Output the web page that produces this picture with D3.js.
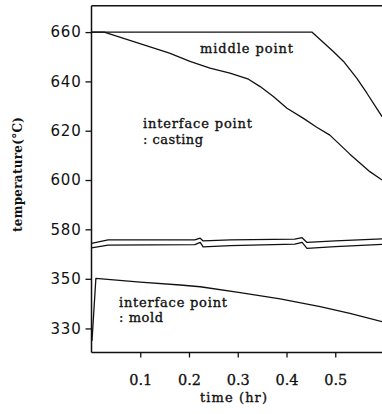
<!DOCTYPE html>
<html>
<head>
<meta charset="utf-8">
<script src="https://cdn.jsdelivr.net/npm/d3@7"></script>
<style>
  html, body { margin: 0; padding: 0; background: #fff; }
  svg { display: block; }
</style>
</head>
<body>
<div id="chart"></div>
<script>
// Time axis (hr) and tick values
const xTicks = [0.1, 0.2, 0.3, 0.4, 0.5];
const yTicks = [330, 350, 580, 600, 620, 640, 660];

// Middle point of the casting
const midTime = [0, 0.452, 0.496, 0.517, 0.544, 0.565, 0.585, 0.596];
const midTemp = [660, 660, 652.1, 648.1, 641.3, 635.2, 629.1, 625.7];

// Interface point on the casting side
const casTime = [0, 0.026, 0.16, 0.202, 0.243, 0.284, 0.322, 0.346, 0.373, 0.401, 0.434, 0.462, 0.489, 0.530, 0.571, 0.596];
const casTemp = [660, 660, 651.5, 648.1, 645.4, 643.4, 640.9, 637.9, 633.9, 629.1, 625.1, 621.4, 618.2, 610.5, 603.4, 600];

// Pair of near-constant traces around 574 °C
const bandTime  = [0, 0.034, 0.212, 0.223, 0.229, 0.285, 0.417, 0.432, 0.442, 0.50, 0.596];
const bandUpper = [574.3, 575.7, 575.7, 576.4, 575.3, 575.7, 576.0, 576.6, 574.7, 575.3, 576.1];
const bandLower = [572.5, 573.6, 573.8, 574.7, 572.9, 573.4, 574.0, 574.7, 572.3, 573.0, 573.9];

// Interface point on the mold side
const moldTime = [0.001, 0.009, 0.10, 0.182, 0.223, 0.305, 0.387, 0.469, 0.530, 0.596];
const moldTemp = [325, 350.2, 348.7, 347.5, 346.8, 344.4, 341.9, 338.8, 336.1, 332.7];

const W = 382, H = 414;
const plotLeft = 91.5, plotTop = 5.7, plotBottom = 352.5, breakY = 254;

const svg = d3.select("#chart").append("svg")
  .attr("width", W).attr("height", H)
  .style("background", "#fff");

const x = d3.scaleLinear().domain([0, 0.6]).range([plotLeft, plotLeft + 0.6 * 487.5]);
// Broken temperature axis: lower part 320–360, upper part 570–671
const y = d3.scaleLinear()
  .domain([320.3, 360, 570, 670.7])
  .range([plotBottom, breakY, breakY, plotTop]);

const serif = "'DejaVu Serif', 'Liberation Serif', serif";

// Frame
const frame = svg.append("g").attr("stroke", "#111").attr("stroke-width", 1.5).attr("fill", "none");
frame.append("line").attr("x1", plotLeft).attr("x2", plotLeft).attr("y1", plotTop).attr("y2", plotBottom);
frame.append("line").attr("x1", plotLeft).attr("x2", W + 5).attr("y1", plotTop).attr("y2", plotTop);
frame.append("line").attr("x1", plotLeft).attr("x2", W + 5).attr("y1", plotBottom).attr("y2", plotBottom);

// Y axis
const yAxis = svg.append("g").attr("transform", `translate(${plotLeft},0)`)
  .call(d3.axisLeft(y).tickValues(yTicks).tickSize(6).tickPadding(4).tickFormat(d3.format("d")));
yAxis.select(".domain").remove();
yAxis.selectAll(".tick line").attr("stroke", "#111").attr("stroke-width", 1.3);
yAxis.selectAll(".tick text")
  .attr("fill", "#111")
  .style("font-family", "'DejaVu Sans', sans-serif")
  .style("font-size", "15px")
  .style("letter-spacing", "0.8px");

// X axis
const xAxis = svg.append("g").attr("transform", `translate(0,${plotBottom})`)
  .call(d3.axisBottom(x).tickValues(xTicks).tickSize(5).tickFormat(d3.format(".1f")));
xAxis.select(".domain").remove();
xAxis.selectAll(".tick line").attr("stroke", "#111").attr("stroke-width", 1.3);
xAxis.selectAll(".tick text")
  .attr("fill", "#111")
  .attr("stroke", "#111").attr("stroke-width", 0.3)
  .attr("y", 22)
  .style("font-family", serif)
  .style("font-size", "14.5px");

// Curves
const line = d3.line().x(d => x(d[0])).y(d => y(d[1]));
const series = [
  [midTime, midTemp],
  [casTime, casTemp],
  [bandTime, bandUpper],
  [bandTime, bandLower],
  [moldTime, moldTemp]
];
svg.append("g").attr("fill", "none").attr("stroke", "#111").attr("stroke-width", 1.3)
  .attr("stroke-linejoin", "round")
  .selectAll("path").data(series).join("path")
  .attr("d", s => line(s[0].map((t, i) => [t, s[1][i]])));

// Annotations
const notes = [
  { text: "middle point", x: 200, y: 52.5, len: 93 },
  { text: "interface point", x: 143, y: 128, len: 109 },
  { text: ": casting", x: 143, y: 143.5, len: 60 },
  { text: "interface point", x: 119, y: 307, len: 108 },
  { text: ": mold", x: 119, y: 322, len: 44 }
];
svg.append("g").selectAll("text").data(notes).join("text")
  .attr("x", d => d.x).attr("y", d => d.y)
  .attr("textLength", d => d.len).attr("lengthAdjust", "spacing")
  .attr("fill", "#111")
  .attr("stroke", "#111").attr("stroke-width", 0.35)
  .style("font-family", serif).style("font-size", "13px")
  .text(d => d.text);

// Axis titles
svg.append("text")
  .attr("x", 233.5).attr("y", 402)
  .attr("text-anchor", "middle")
  .attr("textLength", 67).attr("lengthAdjust", "spacing")
  .attr("fill", "#111")
  .attr("stroke", "#111").attr("stroke-width", 0.35)
  .style("font-family", serif).style("font-size", "13px")
  .text("time (hr)");

svg.append("text")
  .attr("transform", "translate(22,174.5) rotate(-90)")
  .attr("text-anchor", "middle")
  .attr("textLength", 115).attr("lengthAdjust", "spacing")
  .attr("fill", "#111")
  .style("font-family", serif).style("font-size", "12px").style("font-weight", "bold")
  .text("temperature(°C)");
</script>
</body>
</html>
